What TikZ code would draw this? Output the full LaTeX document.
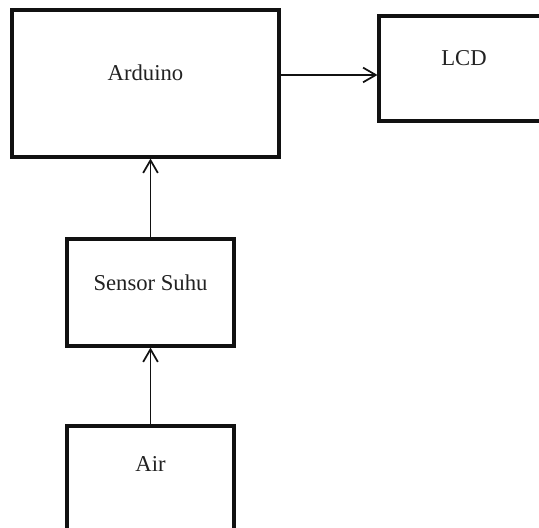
\documentclass[tikz,border=0pt]{standalone}
\usepackage{fontspec}
\setmainfont{Liberation Serif}
\usepackage{tikz}
\usetikzlibrary{calc,arrows.meta,positioning}
\definecolor{BoxLine}{HTML}{111111}
\definecolor{TxtCol}{HTML}{222222}

\begin{document}
\begin{tikzpicture}[x=0.75pt,y=-0.75pt,
  blok/.style={draw=BoxLine,line width=2.3pt,rectangle,inner sep=0pt},
  teks/.style={font=\fontsize{17}{20}\selectfont,text=TxtCol},
  panah/.style={-{Straight Barb[length=9.5pt,width=11pt]},line width=1.3pt,BoxLine}]
  \useasboundingbox (0,0) rectangle (539,528);
  \clip (0,0) rectangle (539,528);
  \node[blok,minimum width=200.25pt,minimum height=110.25pt,
    label={[teks,yshift=8pt]center:Arduino}] (ard) at (145.5,83.5) {};
  \node[blok,minimum width=127.5pt,minimum height=78.75pt,
    label={[teks,yshift=8pt]center:LCD}] (lcd) at (464,68.5) {};
  \node[blok,minimum width=125.25pt,minimum height=80.25pt,
    label={[teks,yshift=7.5pt]center:Sensor Suhu}] (sen) at (150.5,292.5) {};
  \node[blok,minimum width=125.25pt,minimum height=80.25pt,
    label={[teks,yshift=12pt]center:Air}] (air) at (150.5,479.5) {};
  \draw[panah] ([yshift=6.4pt]ard.east) -- ([yshift=6.4pt]ard.east -| lcd.west);
  \draw[panah] (sen.north) -- (sen.north |- ard.south);
  \draw[panah] (air.north) -- (sen.south);
\end{tikzpicture}
\end{document}
